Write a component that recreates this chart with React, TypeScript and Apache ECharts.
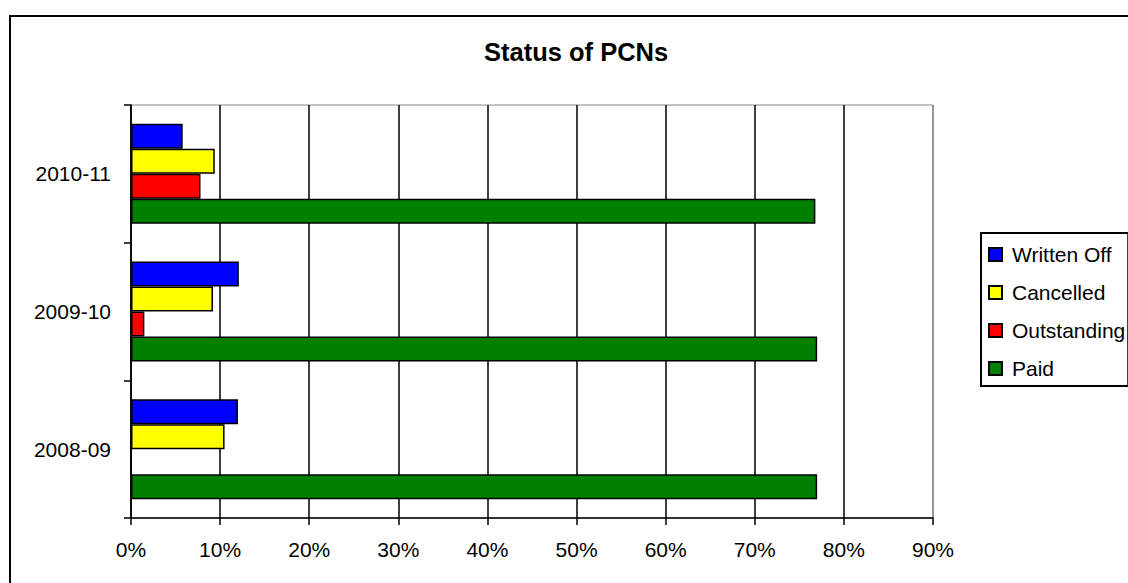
import React, { useEffect, useRef } from "react";
import * as echarts from "echarts";

const categories = ["2008-09", "2009-10", "2010-11"];
const paid = [77.0, 77.0, 76.8];
const outstanding = [0, 1.5, 7.8];
const cancelled = [10.5, 9.2, 9.4];
const writtenOff = [12.0, 12.1, 5.8];
const xTicks = { min: 0, max: 90, interval: 10 };
const legendOrder = ["Written Off", "Cancelled", "Outstanding", "Paid"];

const FONT = "'Liberation Sans', Arial, sans-serif";

export default function App() {
  const ref = useRef<HTMLDivElement>(null);
  useEffect(() => {
    if (!ref.current) return;
    const chart = echarts.init(ref.current, undefined, { renderer: "svg" });
    const mk = (name: string, data: number[], color: string) => ({
      name,
      type: "bar",
      data,
      barWidth: 25,
      barGap: "0%",
      itemStyle: { color, borderColor: "#000", borderWidth: 1.5 },
    });
    chart.setOption({
      animation: false,
      backgroundColor: "#fff",
      textStyle: { fontFamily: FONT },
      title: {
        text: "Status of PCNs",
        left: 484,
        top: 39,
        padding: 0,
        textStyle: { fontFamily: FONT, fontSize: 25.5, fontWeight: "bold", color: "#000" },
      },
      graphic: [
        {
          type: "rect",
          shape: { x: 10, y: 16, width: 1300, height: 800 },
          style: { fill: "none", stroke: "#000", lineWidth: 2 },
          silent: true,
          z: 100,
        },
      ],
      legend: {
        data: legendOrder,
        orient: "vertical",
        left: 981,
        top: 233,
        padding: [11, 3, 7, 7],
        itemWidth: 13,
        itemHeight: 13,
        itemGap: 17,
        icon: "rect",
        borderColor: "#000",
        borderWidth: 2,
        borderRadius: 0,
        textStyle: {
          fontFamily: FONT,
          fontSize: 21,
          lineHeight: 21,
          color: "#000",
          padding: [0, 0, 0, 5],
        },
      },
      grid: {
        left: 131,
        right: 195,
        top: 105,
        bottom: 65,
        show: true,
        borderColor: "#888",
        borderWidth: 1,
        backgroundColor: "transparent",
      },
      xAxis: {
        type: "value",
        min: xTicks.min,
        max: xTicks.max,
        interval: xTicks.interval,
        axisLine: { show: true, lineStyle: { color: "#000", width: 1.5 } },
        axisTick: { show: true, length: 7, lineStyle: { color: "#000", width: 1.5 } },
        axisLabel: {
          formatter: "{value}%",
          fontFamily: FONT,
          fontSize: 21,
          color: "#000",
          margin: 21,
        },
        splitLine: {
          show: true,
          lineStyle: {
            color: ["#000", "#000", "#000", "#000", "#000", "#000", "#000", "#000", "#000", "#888"],
            width: 1.5,
          },
        },
      },
      yAxis: {
        type: "category",
        data: categories,
        axisLine: { show: true, lineStyle: { color: "#000", width: 1.5 } },
        axisTick: { show: true, length: 7, lineStyle: { color: "#000", width: 1.5 } },
        axisLabel: { fontFamily: FONT, fontSize: 21, color: "#000", margin: 20 },
        splitLine: { show: false },
      },
      series: [
        mk("Written Off", writtenOff, "#0000ff"),
        mk("Cancelled", cancelled, "#ffff00"),
        mk("Outstanding", outstanding, "#ff0000"),
        mk("Paid", paid, "#008000"),
      ],
    });
    return () => chart.dispose();
  }, []);
  return (
    <div
      ref={ref}
      style={{ position: "fixed", left: 0, top: 0, width: 1128, height: 583, background: "#fff" }}
    />
  );
}
